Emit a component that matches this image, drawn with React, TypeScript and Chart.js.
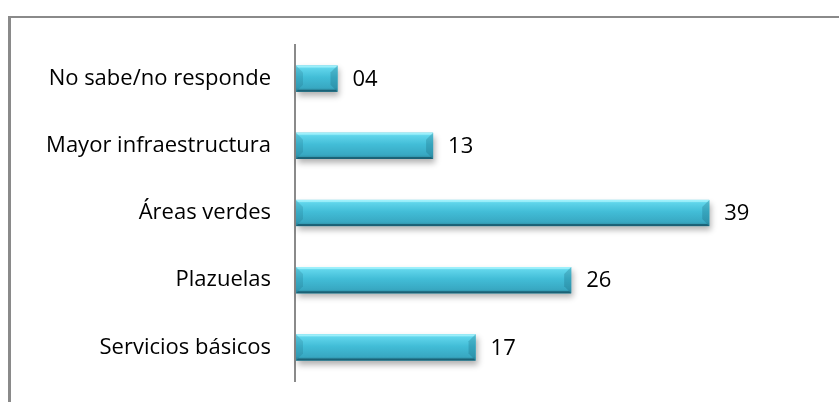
import React, { useEffect, useRef } from "react";
import { Chart, registerables } from "chart.js";

Chart.register(...registerables);

const categories = [
  "No sabe/no responde",
  "Mayor infraestructura",
  "Áreas verdes",
  "Plazuelas",
  "Servicios básicos",
];
const values = [4, 13, 39, 26, 17];
const valueLabels = ["04", "13", "39", "26", "17"];

const FONT = "'Open Sans', sans-serif";
const FONT_SIZE = 22;

const framePlugin = {
  id: "frame",
  beforeDraw(chart: any) {
    const ctx = chart.ctx;
    ctx.save();
    ctx.fillStyle = "#ffffff";
    ctx.fillRect(0, 0, chart.width, chart.height);
    ctx.fillStyle = "#8a8a8a";
    ctx.fillRect(8, 16, 3, chart.height - 16);
    ctx.fillRect(8, 16, chart.width - 8, 2);
    ctx.restore();
  },
};

const bevelBarsPlugin = {
  id: "bevelBars",
  afterDatasetsDraw(chart: any) {
    const ctx = chart.ctx;
    const meta = chart.getDatasetMeta(0);
    meta.data.forEach((bar: any, i: number) => {
      const x0 = bar.base + 1;
      const x1 = bar.x;
      const h = bar.height;
      const y0 = bar.y - h / 2;
      const y1 = bar.y + h / 2;
      const w = x1 - x0;
      ctx.save();
      ctx.shadowColor = "rgba(0,0,0,0.3)";
      ctx.shadowBlur = 6;
      ctx.shadowOffsetX = 2;
      ctx.shadowOffsetY = 4;
      ctx.fillStyle = "#3bb5cf";
      ctx.fillRect(x0, y0, w, h);
      ctx.restore();

      ctx.save();
      const g = ctx.createLinearGradient(0, y0, 0, y1);
      g.addColorStop(0, "#8aeefc");
      g.addColorStop(0.12, "#5fd4ea");
      g.addColorStop(0.45, "#42bdd7");
      g.addColorStop(0.85, "#38a8c2");
      g.addColorStop(1, "#2a8296");
      ctx.fillStyle = g;
      ctx.fillRect(x0, y0, w, h);

      const b = Math.min(7, w / 2);
      ctx.fillStyle = "rgba(20,90,110,0.18)";
      ctx.beginPath();
      ctx.moveTo(x0, y0);
      ctx.lineTo(x0 + b, y0 + b);
      ctx.lineTo(x0 + b, y1 - b);
      ctx.lineTo(x0, y1);
      ctx.closePath();
      ctx.fill();
      ctx.fillStyle = "rgba(20,90,110,0.25)";
      ctx.beginPath();
      ctx.moveTo(x1, y0);
      ctx.lineTo(x1 - b, y0 + b);
      ctx.lineTo(x1 - b, y1 - b);
      ctx.lineTo(x1, y1);
      ctx.closePath();
      ctx.fill();
      ctx.fillStyle = "rgba(190,250,255,0.5)";
      ctx.beginPath();
      ctx.moveTo(x0, y0);
      ctx.lineTo(x1, y0);
      ctx.lineTo(x1 - 2, y0 + 2);
      ctx.lineTo(x0 + 2, y0 + 2);
      ctx.closePath();
      ctx.fill();
      ctx.fillStyle = "rgba(20,80,100,0.7)";
      ctx.beginPath();
      ctx.moveTo(x0, y1);
      ctx.lineTo(x1, y1);
      ctx.lineTo(x1 - 2, y1 - 2);
      ctx.lineTo(x0 + 2, y1 - 2);
      ctx.closePath();
      ctx.fill();
      ctx.restore();

      ctx.save();
      ctx.fillStyle = "#000000";
      ctx.font = `${FONT_SIZE}px ${FONT}`;
      ctx.textAlign = "left";
      ctx.textBaseline = "middle";
      ctx.fillText(valueLabels[i], x1 + 15, bar.y + 1);
      ctx.restore();
    });
  },
};

export default function App() {
  const ref = useRef<HTMLCanvasElement | null>(null);
  useEffect(() => {
    const canvas = ref.current;
    if (!canvas) return;
    const chart = new Chart(canvas, {
      type: "bar",
      data: {
        labels: categories,
        datasets: [
          {
            data: values,
            backgroundColor: "rgba(0,0,0,0)",
            borderWidth: 0,
            barPercentage: 0.39,
            categoryPercentage: 1,
          },
        ],
      },
      options: {
        indexAxis: "y",
        animation: false,
        responsive: false,
        maintainAspectRatio: false,
        layout: { padding: { left: 0, right: 66, top: 45, bottom: 21 } },
        plugins: {
          legend: { display: false },
          tooltip: { enabled: false },
        },
        scales: {
          x: {
            display: false,
            min: 0,
            max: 45,
          },
          y: {
            afterFit(scale: any) {
              scale.width = 295;
              scale.paddingTop = 0;
              scale.paddingBottom = 0;
            },
            grid: { display: false, drawTicks: false },
            border: { display: true, color: "#8a8a8a", width: 2 },
            ticks: {
              padding: 24,
              color: "#000000",
              font: { family: FONT, size: FONT_SIZE },
            },
          },
        },
      },
      plugins: [framePlugin, bevelBarsPlugin],
    });
    return () => chart.destroy();
  }, []);
  return (
    <div style={{ position: "fixed", left: 0, top: 0, width: 839, height: 402, background: "#fff" }}>
      <canvas ref={ref} width={839} height={402} style={{ width: 839, height: 402, display: "block" }} />
    </div>
  );
}
